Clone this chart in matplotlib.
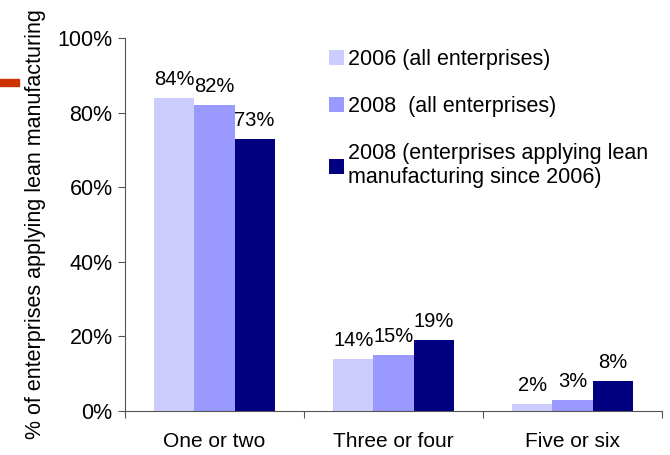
import numpy as np
import matplotlib.pyplot as plt
from matplotlib.patches import Rectangle

plt.rcParams['font.family'] = ['Liberation Sans', 'DejaVu Sans']

categories = ['One or two', 'Three or four', 'Five or six']
series_names = ['2006 (all enterprises)',
                '2008  (all enterprises)',
                '2008 (enterprises applying lean\nmanufacturing since 2006)']
v2006_all = [84, 14, 2]
v2008_all = [82, 15, 3]
v2008_lean = [73, 19, 8]
colors = ['#ccccff', '#9999ff', '#000080']

fig = plt.figure(figsize=(6.7, 4.55), dpi=100)
ax = fig.add_axes([0.1866, 0.0967, 0.8014, 0.8198])

x = np.arange(len(categories))
w = 0.224
for i, (vals, name, c) in enumerate(zip([v2006_all, v2008_all, v2008_lean], series_names, colors)):
    bars = ax.bar(x + (i - 1) * w, vals, w, color=c, label=name)
    for b, v in zip(bars, vals):
        ax.annotate(f'{v}%', (b.get_x() + b.get_width() / 2, v),
                    xytext=(0, 6.5), textcoords='offset points',
                    ha='center', va='bottom', fontsize=14.5)

ax.set_xlim(-0.5, 2.5)
ax.set_ylim(0, 100)
ax.set_yticks(range(0, 101, 20))
ax.set_yticklabels([f'{t}%' for t in range(0, 101, 20)], fontsize=15.5)
ax.set_xticks([-0.5, 0.5, 1.5, 2.5])
ax.set_xticklabels([])
ax.set_xticks(x, minor=True)
ax.set_xticklabels(categories, minor=True, fontsize=15)
ax.tick_params(axis='x', which='minor', length=0, pad=15)
ax.tick_params(axis='x', which='major', length=5, color='#555555')
ax.tick_params(axis='y', length=5, color='#555555', pad=4)
for s in ['top', 'right']:
    ax.spines[s].set_visible(False)
for s in ['left', 'bottom']:
    ax.spines[s].set_color('#555555')

ax.set_ylabel('% of enterprises applying lean manufacturing', fontsize=15.5, labelpad=8)

ax.legend(loc='upper left', bbox_to_anchor=(0.351, 1.012), frameon=False,
          fontsize=15.5, handlelength=0.7, handleheight=0.7, handletextpad=0.2,
          labelspacing=1.22, borderaxespad=0.3)

fig.patches.append(Rectangle((0, 0.811), 0.029, 0.016, transform=fig.transFigure,
                             color='#cc3300', zorder=5))

fig.savefig('out.png', dpi=100)
